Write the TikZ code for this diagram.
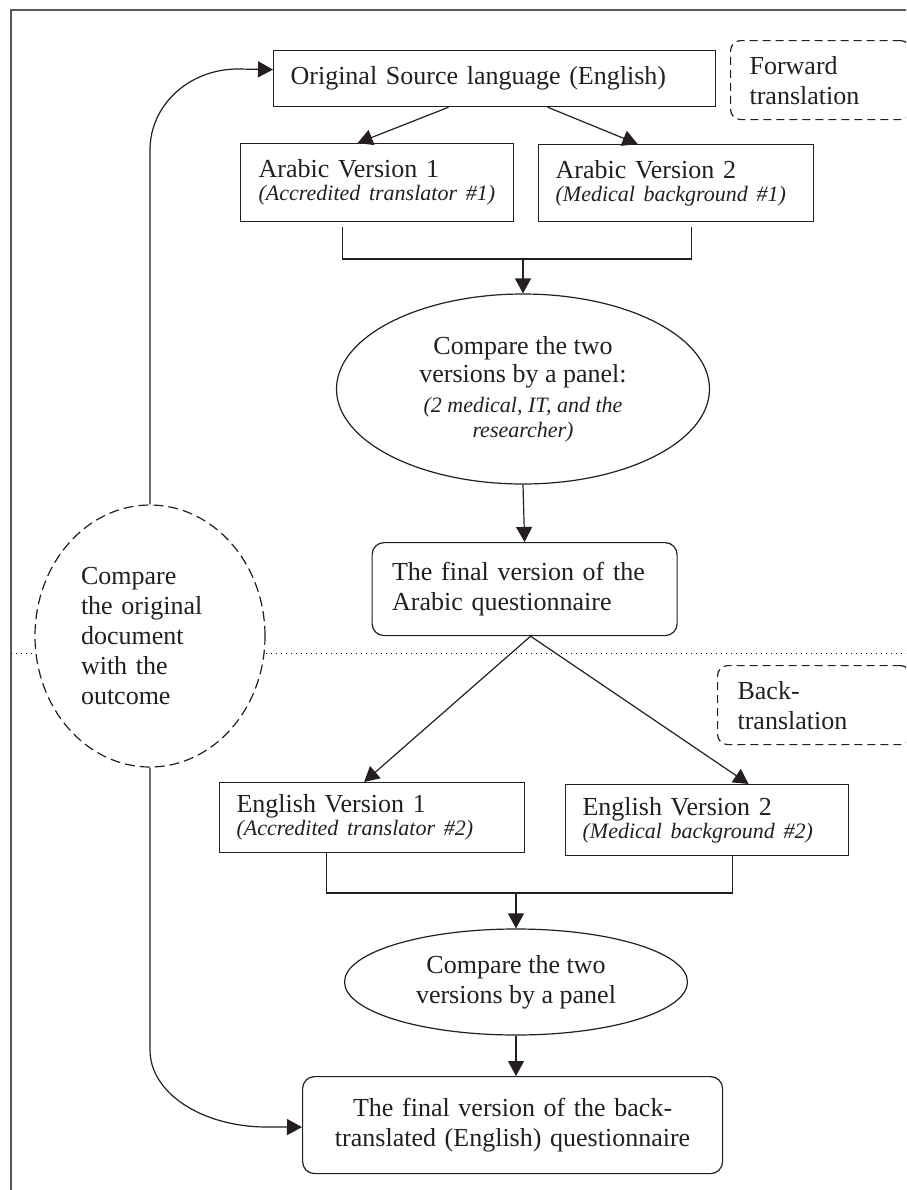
\documentclass[tikz,border=0pt]{standalone}
\usepackage{fontspec}
\setmainfont{Liberation Serif}
\usetikzlibrary{arrows.meta,shapes.geometric}
\definecolor{ink}{HTML}{231F20}
\newcommand{\rolenote}[1]{{\fontsize{11}{12}\selectfont\itshape #1}}

\begin{document}
\begin{tikzpicture}[x=1pt,y=-1pt,scale=0.5,
    font=\fontsize{13}{15}\selectfont,
    box/.style={draw=ink,line width=0.6pt,rectangle,anchor=north west,align=left,
        inner xsep=8.5pt,inner ysep=0pt,text=ink},
    roundbox/.style={box,rounded corners=6pt},
    phasebox/.style={box,rounded corners=5pt,dash pattern=on 4pt off 2.5pt},
    panel/.style={draw=ink,line width=0.6pt,ellipse,inner sep=0pt,align=center,text=ink},
    link/.style={draw=ink,line width=0.6pt},
    arrow/.style={link,-{Triangle[length=7.5pt,width=8pt]}}]
    \useasboundingbox (0,0) rectangle (906,1190);
    \clip (0,0) rectangle (906,1190);

    % frame and phase separator
    \draw[gray!70!black,line width=0.7pt] (11,10) rectangle (930,1210);
    \draw[dotted,line width=0.5pt] (11,653) -- (906,653);

    % forward translation
    \node[box,text width=204pt,minimum height=28pt] (src) at (273,50) {Original Source language (English)};
    \node[phasebox,inner xsep=9.5pt,text width=71pt,minimum height=39.5pt] (fwd) at (730,40) {Forward\\translation};
    \node[box,inner xsep=9pt,text width=118.5pt,minimum height=39pt] (av1) at (240,143)
        {Arabic Version 1\\[-3.5pt]\rolenote{(Accredited translator \#1)}};
    \node[box,text width=120.5pt,minimum height=38.5pt] (av2) at (538,144)
        {Arabic Version 2\\[-3.5pt]\rolenote{(Medical background \#1)}};
    \node[panel,minimum width=186.5pt,minimum height=95pt] (cmp1) at (523,389)
        {Compare the two\\[-1pt]versions by a panel:\\\rolenote{(2 medical, IT, and the}\\[-2.5pt]\rolenote{researcher)}};
    \node[roundbox,inner xsep=10pt,text width=132.5pt,minimum height=46.5pt] (fin1) at (371.5,542)
        {The final version of the\\Arabic questionnaire};

    % comparison with the original
    \node[panel,dash pattern=on 5pt off 2.5pt,fill=white,minimum width=115pt,minimum height=131pt,
        text width=69pt,align=left] (cmpdoc) at (150,636) {Compare\\the original\\document\\with the\\outcome};

    % back translation
    \node[phasebox,inner xsep=10pt,text width=76.5pt,minimum height=39.5pt] (back) at (717,665) {Back-\\translation};
    \node[box,text width=135.5pt,minimum height=35pt] (ev1) at (219,782)
        {English Version 1\\[-3.5pt]\rolenote{(Accredited translator \#2)}};
    \node[box,text width=124.5pt,minimum height=35.5pt] (ev2) at (565,784)
        {English Version 2\\[-3.5pt]\rolenote{(Medical background \#2)}};
    \node[panel,minimum width=171.5pt,minimum height=53pt] (cmp2) at (516,982) {Compare the two\\versions by a panel};
    \node[roundbox,align=center,inner xsep=5pt,text width=200pt,minimum height=48.5pt] (fin2) at (302,1076)
        {The final version of the back-\\translated (English) questionnaire};

    \coordinate (j1) at (523,259);
    \coordinate (j2) at (516,893);

    % connectors (shifts are scaled with the picture)
    \draw[arrow] ([xshift=-46pt]src.south) -- ([xshift=-19.5pt]av1.north);
    \draw[arrow] ([xshift=53pt]src.south) -- ([xshift=-38.5pt]av2.north);
    \draw[link] ([xshift=-34.5pt,yshift=-5pt]av1.south) |- (j1) -| ([xshift=15.5pt,yshift=-5pt]av2.south);
    \draw[arrow] (j1) -- (cmp1.north);
    \draw[arrow] (cmp1.south) -- (fin1.north);
    \draw[arrow] ([xshift=6pt]fin1.south) -- ([xshift=-8pt]ev1.north);
    \draw[arrow] ([xshift=6pt]fin1.south) -- ([xshift=41.5pt]ev2.north);
    \draw[link] ([xshift=-45.5pt]ev1.south) |- (j2) -| ([xshift=25.5pt]ev2.south);
    \draw[arrow] (j2) -- (cmp2.north);
    \draw[arrow] (cmp2.south) -- (cmp2.south |- fin2.north);

    % feedback loop
    \draw[arrow] (cmpdoc.north) -- (150,150) .. controls (150,105) and (189,69) .. (238,69) -- ([yshift=9pt]src.west);
    \draw[arrow] (cmpdoc.south) -- (150,1050) .. controls (150,1093) and (202,1127) .. (267,1127) -- ([yshift=-2pt]fin2.west);
\end{tikzpicture}
\end{document}
